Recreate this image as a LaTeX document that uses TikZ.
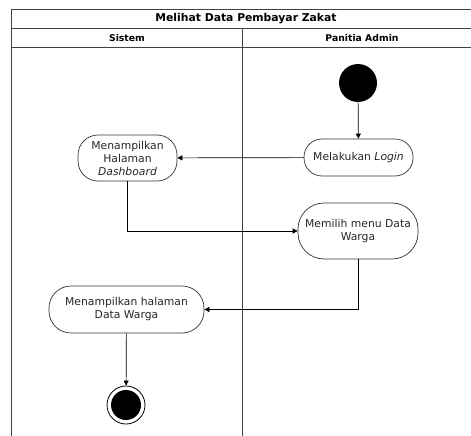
\documentclass[tikz,border=0pt]{standalone}
\usepackage{fontspec}
\setmainfont{DejaVu Sans}
\usetikzlibrary{arrows.meta}
\begin{document}
\begin{tikzpicture}[x=1pt,y=-1pt,
  lane/.style={draw=black!75,line width=0.9pt},
  act/.style={draw=black!80,line width=0.7pt,rounded corners=18pt,align=center,font=\fontsize{10.8}{13}\selectfont,text=black!85,inner sep=0pt},
  flow/.style={draw=black,line width=0.7pt,-{Triangle[length=5pt,width=5pt]}}]
\useasboundingbox (0,0) rectangle (471,436);
% swimlane frame
\draw[lane] (471,9.5) -- (11,9.5) -- (11,436);
\draw[lane] (11,28.5) -- (471,28.5);
\draw[lane] (11,47) -- (471,47);
\draw[lane] (242,28.5) -- (242,436);
\node (title) at (246,19) {\fontsize{10.8}{12}\selectfont\bfseries Melihat Data Pembayar Zakat};
\node (sis) at (127,38) {\fontsize{9.3}{11}\selectfont\bfseries Sistem};
\node (pan) at (362,38) {\fontsize{9.3}{11}\selectfont\bfseries Panitia Admin};
% nodes
\node[circle,fill=black,minimum size=38pt,inner sep=0pt] (start) at (358,83) {};
\node[act,minimum width=109pt,minimum height=37pt] (login) at (358.5,157.5) {Melakukan \textit{Login}};
\node[act,minimum width=99pt,minimum height=46pt,rounded corners=20pt] (dash) at (127.5,158) {Menampilkan\\Halaman\\\textit{Dashboard}};
\node[act,minimum width=120pt,minimum height=56pt,rounded corners=26pt] (pilih) at (358,231) {Memilih menu Data\\Warga};
\node[act,minimum width=155pt,minimum height=47pt,rounded corners=22pt] (tampil) at (126.5,309.5) {Menampilkan halaman\\Data Warga};
\node[circle,draw=black,line width=0.8pt,minimum size=38pt,inner sep=0pt] (end) at (126,405) {};
\node[circle,fill=black,minimum size=30pt,inner sep=0pt] (endin) at (end.center) {};
% flows
\draw[flow] (start) -- (login);
\draw[flow] (login) -- (dash);
\draw[flow] (dash.south) |- (pilih.west);
\draw[flow] (pilih.south) |- (tampil.east);
\draw[flow] (tampil) -- (end);
\end{tikzpicture}
\end{document}
